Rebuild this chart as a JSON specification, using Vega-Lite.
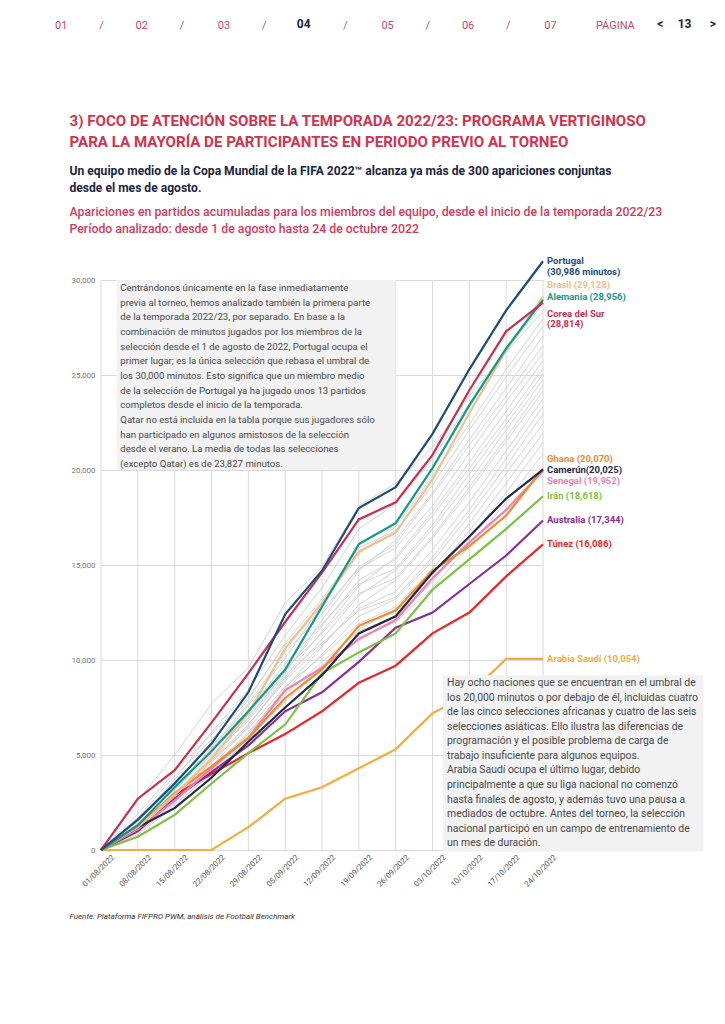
{
"$schema": "https://vega.github.io/schema/vega-lite/v6.json",
"width": 442, "height": 589,
"autosize": {"type": "none"},
"padding": {"left": 101, "top": 261, "right": 182, "bottom": 174},
"background": "white",
"config": {"view": {"stroke": null}, "font": "Roboto"},
"title": {
 "text": "01\u2003\u2003\u2002\u2004/\u2003\u2003\u2002\u200402\u2003\u2003\u2002\u2004/\u2003\u2003\u2002\u2004\u200603\u2003\u2003\u2002\u2004/\u2003\u2003\u2002\u2004\u2003\u2006\u2003\u2003\u2002\u2004/\u2003\u2003\u2002\u2004\u200605\u2003\u2003\u2002\u2004/\u2003\u2003\u2002\u200406\u2003\u2003\u2002\u2004/\u2003\u2003\u2002\u2004\u200607\u2003\u2003\u2003\u2002PÁGINA",
 "subtitle": "\u200b\u2003\u2003\u2003\u2003\u2003\u2003\u2003\u2003\u2003\u2003\u2003\u2003\u2003\u2003\u2003\u2003\u2003\u2003\u2003\u2002\u200504\u2003\u2003\u2003\u2003\u2003\u2003\u2003\u2003\u2003\u2003\u2003\u2003\u2003\u2003\u2003\u2003\u2003\u2003\u2003\u2003\u2003\u2003\u2003\u2003\u2003\u2003\u2003\u2003\u2004<\u2003\u200613\u2003\u2005\u2005>",
 "anchor": "start", "frame": "group", "dx": -46, "offset": 80,
 "font": "Roboto", "fontSize": 11, "fontWeight": "normal", "color": "#c9486e",
 "subtitleFont": "Roboto", "subtitleFontSize": 12, "subtitleFontWeight": "bold", "subtitleColor": "#1c2541", "subtitlePadding": -12
},
"datasets": {
"etiquetas": [
 {"t": "Portugal", "texto": ["Portugal", "(30,986 minutos)"], "v": 30986, "d": "2022-10-24"},
 {"t": "Brasil", "texto": "Brasil (29,128)", "v": 29128, "d": "2022-10-24"},
 {"t": "Alemania", "texto": "Alemania (28,956)", "v": 28956, "d": "2022-10-24"},
 {"t": "Corea del Sur", "texto": ["Corea del Sur", "(28,814)"], "v": 28814, "d": "2022-10-24"},
 {"t": "Ghana", "texto": "Ghana (20,070)", "v": 20070, "d": "2022-10-24"},
 {"t": "Camerún", "texto": "Camerún(20,025)", "v": 20025, "d": "2022-10-24"},
 {"t": "Senegal", "texto": "Senegal (19,952)", "v": 19952, "d": "2022-10-24"},
 {"t": "Irán", "texto": "Irán (18,618)", "v": 18618, "d": "2022-10-24"},
 {"t": "Australia", "texto": "Australia (17,344)", "v": 17344, "d": "2022-10-24"},
 {"t": "Túnez", "texto": "Túnez (16,086)", "v": 16086, "d": "2022-10-24"},
 {"t": "Arabia Saudí", "texto": "Arabia Saudí (10,054)", "v": 10054, "d": "2022-10-24"}
],
"series": [
{"t":"Otra 01","d":"2022-08-01","v":0},{"t":"Otra 01","d":"2022-08-08","v":1500},{"t":"Otra 01","d":"2022-08-15","v":3700},{"t":"Otra 01","d":"2022-08-22","v":6200},{"t":"Otra 01","d":"2022-08-29","v":8400},{"t":"Otra 01","d":"2022-09-05","v":11300},{"t":"Otra 01","d":"2022-09-12","v":13800},{"t":"Otra 01","d":"2022-09-19","v":16900},{"t":"Otra 01","d":"2022-09-26","v":18200},{"t":"Otra 01","d":"2022-10-03","v":20600},{"t":"Otra 01","d":"2022-10-10","v":23500},{"t":"Otra 01","d":"2022-10-17","v":26300},{"t":"Otra 01","d":"2022-10-24","v":28750},
{"t":"Otra 02","d":"2022-08-01","v":0},{"t":"Otra 02","d":"2022-08-08","v":2600},{"t":"Otra 02","d":"2022-08-15","v":5000},{"t":"Otra 02","d":"2022-08-22","v":7700},{"t":"Otra 02","d":"2022-08-29","v":9600},{"t":"Otra 02","d":"2022-09-05","v":13000},{"t":"Otra 02","d":"2022-09-12","v":14900},{"t":"Otra 02","d":"2022-09-19","v":18100},{"t":"Otra 02","d":"2022-09-26","v":19300},{"t":"Otra 02","d":"2022-10-03","v":21200},{"t":"Otra 02","d":"2022-10-10","v":23900},{"t":"Otra 02","d":"2022-10-17","v":26200},{"t":"Otra 02","d":"2022-10-24","v":28350},
{"t":"Otra 03","d":"2022-08-01","v":0},{"t":"Otra 03","d":"2022-08-08","v":1200},{"t":"Otra 03","d":"2022-08-15","v":3100},{"t":"Otra 03","d":"2022-08-22","v":5300},{"t":"Otra 03","d":"2022-08-29","v":7600},{"t":"Otra 03","d":"2022-09-05","v":10100},{"t":"Otra 03","d":"2022-09-12","v":12900},{"t":"Otra 03","d":"2022-09-19","v":15600},{"t":"Otra 03","d":"2022-09-26","v":17000},{"t":"Otra 03","d":"2022-10-03","v":19700},{"t":"Otra 03","d":"2022-10-10","v":22400},{"t":"Otra 03","d":"2022-10-17","v":25300},{"t":"Otra 03","d":"2022-10-24","v":27950},
{"t":"Otra 04","d":"2022-08-01","v":0},{"t":"Otra 04","d":"2022-08-08","v":1700},{"t":"Otra 04","d":"2022-08-15","v":3900},{"t":"Otra 04","d":"2022-08-22","v":5800},{"t":"Otra 04","d":"2022-08-29","v":7900},{"t":"Otra 04","d":"2022-09-05","v":10900},{"t":"Otra 04","d":"2022-09-12","v":13200},{"t":"Otra 04","d":"2022-09-19","v":15900},{"t":"Otra 04","d":"2022-09-26","v":16800},{"t":"Otra 04","d":"2022-10-03","v":19200},{"t":"Otra 04","d":"2022-10-10","v":22100},{"t":"Otra 04","d":"2022-10-17","v":24900},{"t":"Otra 04","d":"2022-10-24","v":27550},
{"t":"Otra 05","d":"2022-08-01","v":0},{"t":"Otra 05","d":"2022-08-08","v":1000},{"t":"Otra 05","d":"2022-08-15","v":2600},{"t":"Otra 05","d":"2022-08-22","v":4700},{"t":"Otra 05","d":"2022-08-29","v":7000},{"t":"Otra 05","d":"2022-09-05","v":9300},{"t":"Otra 05","d":"2022-09-12","v":12100},{"t":"Otra 05","d":"2022-09-19","v":14700},{"t":"Otra 05","d":"2022-09-26","v":16300},{"t":"Otra 05","d":"2022-10-03","v":18800},{"t":"Otra 05","d":"2022-10-10","v":21600},{"t":"Otra 05","d":"2022-10-17","v":24300},{"t":"Otra 05","d":"2022-10-24","v":27050},
{"t":"Otra 06","d":"2022-08-01","v":0},{"t":"Otra 06","d":"2022-08-08","v":1400},{"t":"Otra 06","d":"2022-08-15","v":3300},{"t":"Otra 06","d":"2022-08-22","v":5400},{"t":"Otra 06","d":"2022-08-29","v":7700},{"t":"Otra 06","d":"2022-09-05","v":10400},{"t":"Otra 06","d":"2022-09-12","v":12400},{"t":"Otra 06","d":"2022-09-19","v":14900},{"t":"Otra 06","d":"2022-09-26","v":16100},{"t":"Otra 06","d":"2022-10-03","v":18700},{"t":"Otra 06","d":"2022-10-10","v":21300},{"t":"Otra 06","d":"2022-10-17","v":23900},{"t":"Otra 06","d":"2022-10-24","v":26550},
{"t":"Otra 07","d":"2022-08-01","v":0},{"t":"Otra 07","d":"2022-08-08","v":1900},{"t":"Otra 07","d":"2022-08-15","v":4100},{"t":"Otra 07","d":"2022-08-22","v":6100},{"t":"Otra 07","d":"2022-08-29","v":8000},{"t":"Otra 07","d":"2022-09-05","v":10800},{"t":"Otra 07","d":"2022-09-12","v":12600},{"t":"Otra 07","d":"2022-09-19","v":14800},{"t":"Otra 07","d":"2022-09-26","v":15900},{"t":"Otra 07","d":"2022-10-03","v":18100},{"t":"Otra 07","d":"2022-10-10","v":20900},{"t":"Otra 07","d":"2022-10-17","v":23600},{"t":"Otra 07","d":"2022-10-24","v":26150},
{"t":"Otra 08","d":"2022-08-01","v":0},{"t":"Otra 08","d":"2022-08-08","v":900},{"t":"Otra 08","d":"2022-08-15","v":2500},{"t":"Otra 08","d":"2022-08-22","v":4400},{"t":"Otra 08","d":"2022-08-29","v":6500},{"t":"Otra 08","d":"2022-09-05","v":9100},{"t":"Otra 08","d":"2022-09-12","v":11500},{"t":"Otra 08","d":"2022-09-19","v":13900},{"t":"Otra 08","d":"2022-09-26","v":15400},{"t":"Otra 08","d":"2022-10-03","v":17800},{"t":"Otra 08","d":"2022-10-10","v":20400},{"t":"Otra 08","d":"2022-10-17","v":23100},{"t":"Otra 08","d":"2022-10-24","v":25750},
{"t":"Otra 09","d":"2022-08-01","v":0},{"t":"Otra 09","d":"2022-08-08","v":1300},{"t":"Otra 09","d":"2022-08-15","v":3000},{"t":"Otra 09","d":"2022-08-22","v":4900},{"t":"Otra 09","d":"2022-08-29","v":6900},{"t":"Otra 09","d":"2022-09-05","v":9400},{"t":"Otra 09","d":"2022-09-12","v":11800},{"t":"Otra 09","d":"2022-09-19","v":14200},{"t":"Otra 09","d":"2022-09-26","v":15300},{"t":"Otra 09","d":"2022-10-03","v":17600},{"t":"Otra 09","d":"2022-10-10","v":20100},{"t":"Otra 09","d":"2022-10-17","v":22700},{"t":"Otra 09","d":"2022-10-24","v":25350},
{"t":"Otra 10","d":"2022-08-01","v":0},{"t":"Otra 10","d":"2022-08-08","v":1600},{"t":"Otra 10","d":"2022-08-15","v":3600},{"t":"Otra 10","d":"2022-08-22","v":5500},{"t":"Otra 10","d":"2022-08-29","v":7300},{"t":"Otra 10","d":"2022-09-05","v":9800},{"t":"Otra 10","d":"2022-09-12","v":11900},{"t":"Otra 10","d":"2022-09-19","v":14000},{"t":"Otra 10","d":"2022-09-26","v":14800},{"t":"Otra 10","d":"2022-10-03","v":17100},{"t":"Otra 10","d":"2022-10-10","v":19800},{"t":"Otra 10","d":"2022-10-17","v":22400},{"t":"Otra 10","d":"2022-10-24","v":25050},
{"t":"Otra 11","d":"2022-08-01","v":0},{"t":"Otra 11","d":"2022-08-08","v":1100},{"t":"Otra 11","d":"2022-08-15","v":2800},{"t":"Otra 11","d":"2022-08-22","v":4600},{"t":"Otra 11","d":"2022-08-29","v":6600},{"t":"Otra 11","d":"2022-09-05","v":9000},{"t":"Otra 11","d":"2022-09-12","v":11100},{"t":"Otra 11","d":"2022-09-19","v":13400},{"t":"Otra 11","d":"2022-09-26","v":14700},{"t":"Otra 11","d":"2022-10-03","v":16900},{"t":"Otra 11","d":"2022-10-10","v":19400},{"t":"Otra 11","d":"2022-10-17","v":22100},{"t":"Otra 11","d":"2022-10-24","v":24750},
{"t":"Otra 12","d":"2022-08-01","v":0},{"t":"Otra 12","d":"2022-08-08","v":1500},{"t":"Otra 12","d":"2022-08-15","v":3400},{"t":"Otra 12","d":"2022-08-22","v":5200},{"t":"Otra 12","d":"2022-08-29","v":7100},{"t":"Otra 12","d":"2022-09-05","v":9500},{"t":"Otra 12","d":"2022-09-12","v":11400},{"t":"Otra 12","d":"2022-09-19","v":13500},{"t":"Otra 12","d":"2022-09-26","v":14300},{"t":"Otra 12","d":"2022-10-03","v":16500},{"t":"Otra 12","d":"2022-10-10","v":19100},{"t":"Otra 12","d":"2022-10-17","v":21700},{"t":"Otra 12","d":"2022-10-24","v":24450},
{"t":"Otra 13","d":"2022-08-01","v":0},{"t":"Otra 13","d":"2022-08-08","v":800},{"t":"Otra 13","d":"2022-08-15","v":2300},{"t":"Otra 13","d":"2022-08-22","v":4100},{"t":"Otra 13","d":"2022-08-29","v":6100},{"t":"Otra 13","d":"2022-09-05","v":8500},{"t":"Otra 13","d":"2022-09-12","v":10700},{"t":"Otra 13","d":"2022-09-19","v":12900},{"t":"Otra 13","d":"2022-09-26","v":14200},{"t":"Otra 13","d":"2022-10-03","v":16400},{"t":"Otra 13","d":"2022-10-10","v":18900},{"t":"Otra 13","d":"2022-10-17","v":21500},{"t":"Otra 13","d":"2022-10-24","v":24150},
{"t":"Otra 14","d":"2022-08-01","v":0},{"t":"Otra 14","d":"2022-08-08","v":1200},{"t":"Otra 14","d":"2022-08-15","v":2900},{"t":"Otra 14","d":"2022-08-22","v":4700},{"t":"Otra 14","d":"2022-08-29","v":6600},{"t":"Otra 14","d":"2022-09-05","v":8900},{"t":"Otra 14","d":"2022-09-12","v":10800},{"t":"Otra 14","d":"2022-09-19","v":12700},{"t":"Otra 14","d":"2022-09-26","v":13600},{"t":"Otra 14","d":"2022-10-03","v":15800},{"t":"Otra 14","d":"2022-10-10","v":18300},{"t":"Otra 14","d":"2022-10-17","v":21000},{"t":"Otra 14","d":"2022-10-24","v":23750},
{"t":"Otra 15","d":"2022-08-01","v":0},{"t":"Otra 15","d":"2022-08-08","v":1400},{"t":"Otra 15","d":"2022-08-15","v":3200},{"t":"Otra 15","d":"2022-08-22","v":5000},{"t":"Otra 15","d":"2022-08-29","v":6800},{"t":"Otra 15","d":"2022-09-05","v":9200},{"t":"Otra 15","d":"2022-09-12","v":10900},{"t":"Otra 15","d":"2022-09-19","v":12600},{"t":"Otra 15","d":"2022-09-26","v":13300},{"t":"Otra 15","d":"2022-10-03","v":15400},{"t":"Otra 15","d":"2022-10-10","v":17900},{"t":"Otra 15","d":"2022-10-17","v":20600},{"t":"Otra 15","d":"2022-10-24","v":23350},
{"t":"Otra 16","d":"2022-08-01","v":0},{"t":"Otra 16","d":"2022-08-08","v":1000},{"t":"Otra 16","d":"2022-08-15","v":2600},{"t":"Otra 16","d":"2022-08-22","v":4300},{"t":"Otra 16","d":"2022-08-29","v":6200},{"t":"Otra 16","d":"2022-09-05","v":8400},{"t":"Otra 16","d":"2022-09-12","v":10300},{"t":"Otra 16","d":"2022-09-19","v":12300},{"t":"Otra 16","d":"2022-09-26","v":13200},{"t":"Otra 16","d":"2022-10-03","v":15200},{"t":"Otra 16","d":"2022-10-10","v":17600},{"t":"Otra 16","d":"2022-10-17","v":20200},{"t":"Otra 16","d":"2022-10-24","v":22950},
{"t":"Otra 17","d":"2022-08-01","v":0},{"t":"Otra 17","d":"2022-08-08","v":1300},{"t":"Otra 17","d":"2022-08-15","v":3000},{"t":"Otra 17","d":"2022-08-22","v":4700},{"t":"Otra 17","d":"2022-08-29","v":6400},{"t":"Otra 17","d":"2022-09-05","v":8600},{"t":"Otra 17","d":"2022-09-12","v":10200},{"t":"Otra 17","d":"2022-09-19","v":11900},{"t":"Otra 17","d":"2022-09-26","v":12800},{"t":"Otra 17","d":"2022-10-03","v":14800},{"t":"Otra 17","d":"2022-10-10","v":17200},{"t":"Otra 17","d":"2022-10-17","v":19800},{"t":"Otra 17","d":"2022-10-24","v":22450},
{"t":"Otra 18","d":"2022-08-01","v":0},{"t":"Otra 18","d":"2022-08-08","v":900},{"t":"Otra 18","d":"2022-08-15","v":2400},{"t":"Otra 18","d":"2022-08-22","v":4000},{"t":"Otra 18","d":"2022-08-29","v":5800},{"t":"Otra 18","d":"2022-09-05","v":7900},{"t":"Otra 18","d":"2022-09-12","v":9700},{"t":"Otra 18","d":"2022-09-19","v":11600},{"t":"Otra 18","d":"2022-09-26","v":12700},{"t":"Otra 18","d":"2022-10-03","v":14500},{"t":"Otra 18","d":"2022-10-10","v":16800},{"t":"Otra 18","d":"2022-10-17","v":19300},{"t":"Otra 18","d":"2022-10-24","v":21950},
{"t":"Otra 19","d":"2022-08-01","v":0},{"t":"Otra 19","d":"2022-08-08","v":1100},{"t":"Otra 19","d":"2022-08-15","v":2700},{"t":"Otra 19","d":"2022-08-22","v":4400},{"t":"Otra 19","d":"2022-08-29","v":6100},{"t":"Otra 19","d":"2022-09-05","v":8200},{"t":"Otra 19","d":"2022-09-12","v":9900},{"t":"Otra 19","d":"2022-09-19","v":11500},{"t":"Otra 19","d":"2022-09-26","v":12300},{"t":"Otra 19","d":"2022-10-03","v":14100},{"t":"Otra 19","d":"2022-10-10","v":16400},{"t":"Otra 19","d":"2022-10-17","v":18800},{"t":"Otra 19","d":"2022-10-24","v":21450},
{"t":"Otra 20","d":"2022-08-01","v":0},{"t":"Otra 20","d":"2022-08-08","v":1200},{"t":"Otra 20","d":"2022-08-15","v":2800},{"t":"Otra 20","d":"2022-08-22","v":4300},{"t":"Otra 20","d":"2022-08-29","v":5900},{"t":"Otra 20","d":"2022-09-05","v":7800},{"t":"Otra 20","d":"2022-09-12","v":9500},{"t":"Otra 20","d":"2022-09-19","v":11200},{"t":"Otra 20","d":"2022-09-26","v":12000},{"t":"Otra 20","d":"2022-10-03","v":13800},{"t":"Otra 20","d":"2022-10-10","v":16000},{"t":"Otra 20","d":"2022-10-17","v":18300},{"t":"Otra 20","d":"2022-10-24","v":20850},
{"t":"Arabia Saudí","d":"2022-08-01","v":0},{"t":"Arabia Saudí","d":"2022-08-08","v":0},{"t":"Arabia Saudí","d":"2022-08-15","v":0},{"t":"Arabia Saudí","d":"2022-08-22","v":0},{"t":"Arabia Saudí","d":"2022-08-29","v":1200},{"t":"Arabia Saudí","d":"2022-09-05","v":2700},{"t":"Arabia Saudí","d":"2022-09-12","v":3300},{"t":"Arabia Saudí","d":"2022-09-19","v":4300},{"t":"Arabia Saudí","d":"2022-09-26","v":5300},{"t":"Arabia Saudí","d":"2022-10-03","v":7200},{"t":"Arabia Saudí","d":"2022-10-10","v":8200},{"t":"Arabia Saudí","d":"2022-10-17","v":10054},{"t":"Arabia Saudí","d":"2022-10-24","v":10054},
{"t":"Túnez","d":"2022-08-01","v":0},{"t":"Túnez","d":"2022-08-08","v":1300},{"t":"Túnez","d":"2022-08-15","v":2900},{"t":"Túnez","d":"2022-08-22","v":4000},{"t":"Túnez","d":"2022-08-29","v":5100},{"t":"Túnez","d":"2022-09-05","v":6100},{"t":"Túnez","d":"2022-09-12","v":7300},{"t":"Túnez","d":"2022-09-19","v":8800},{"t":"Túnez","d":"2022-09-26","v":9700},{"t":"Túnez","d":"2022-10-03","v":11400},{"t":"Túnez","d":"2022-10-10","v":12500},{"t":"Túnez","d":"2022-10-17","v":14400},{"t":"Túnez","d":"2022-10-24","v":16086},
{"t":"Australia","d":"2022-08-01","v":0},{"t":"Australia","d":"2022-08-08","v":1000},{"t":"Australia","d":"2022-08-15","v":2700},{"t":"Australia","d":"2022-08-22","v":4100},{"t":"Australia","d":"2022-08-29","v":5500},{"t":"Australia","d":"2022-09-05","v":7300},{"t":"Australia","d":"2022-09-12","v":8300},{"t":"Australia","d":"2022-09-19","v":9900},{"t":"Australia","d":"2022-09-26","v":11700},{"t":"Australia","d":"2022-10-03","v":12500},{"t":"Australia","d":"2022-10-10","v":14000},{"t":"Australia","d":"2022-10-17","v":15500},{"t":"Australia","d":"2022-10-24","v":17344},
{"t":"Irán","d":"2022-08-01","v":0},{"t":"Irán","d":"2022-08-08","v":700},{"t":"Irán","d":"2022-08-15","v":1850},{"t":"Irán","d":"2022-08-22","v":3500},{"t":"Irán","d":"2022-08-29","v":5100},{"t":"Irán","d":"2022-09-05","v":6600},{"t":"Irán","d":"2022-09-12","v":9300},{"t":"Irán","d":"2022-09-19","v":10400},{"t":"Irán","d":"2022-09-26","v":11400},{"t":"Irán","d":"2022-10-03","v":13700},{"t":"Irán","d":"2022-10-10","v":15300},{"t":"Irán","d":"2022-10-17","v":16900},{"t":"Irán","d":"2022-10-24","v":18618},
{"t":"Senegal","d":"2022-08-01","v":0},{"t":"Senegal","d":"2022-08-08","v":1100},{"t":"Senegal","d":"2022-08-15","v":2600},{"t":"Senegal","d":"2022-08-22","v":4300},{"t":"Senegal","d":"2022-08-29","v":5900},{"t":"Senegal","d":"2022-09-05","v":8400},{"t":"Senegal","d":"2022-09-12","v":9600},{"t":"Senegal","d":"2022-09-19","v":11100},{"t":"Senegal","d":"2022-09-26","v":12100},{"t":"Senegal","d":"2022-10-03","v":14300},{"t":"Senegal","d":"2022-10-10","v":16200},{"t":"Senegal","d":"2022-10-17","v":17900},{"t":"Senegal","d":"2022-10-24","v":19952},
{"t":"Ghana","d":"2022-08-01","v":0},{"t":"Ghana","d":"2022-08-08","v":1200},{"t":"Ghana","d":"2022-08-15","v":3000},{"t":"Ghana","d":"2022-08-22","v":4400},{"t":"Ghana","d":"2022-08-29","v":5900},{"t":"Ghana","d":"2022-09-05","v":8000},{"t":"Ghana","d":"2022-09-12","v":9500},{"t":"Ghana","d":"2022-09-19","v":11800},{"t":"Ghana","d":"2022-09-26","v":12600},{"t":"Ghana","d":"2022-10-03","v":14700},{"t":"Ghana","d":"2022-10-10","v":16000},{"t":"Ghana","d":"2022-10-17","v":17600},{"t":"Ghana","d":"2022-10-24","v":20070},
{"t":"Camerún","d":"2022-08-01","v":0},{"t":"Camerún","d":"2022-08-08","v":1200},{"t":"Camerún","d":"2022-08-15","v":2200},{"t":"Camerún","d":"2022-08-22","v":3800},{"t":"Camerún","d":"2022-08-29","v":5700},{"t":"Camerún","d":"2022-09-05","v":7500},{"t":"Camerún","d":"2022-09-12","v":9200},{"t":"Camerún","d":"2022-09-19","v":11400},{"t":"Camerún","d":"2022-09-26","v":12300},{"t":"Camerún","d":"2022-10-03","v":14600},{"t":"Camerún","d":"2022-10-10","v":16500},{"t":"Camerún","d":"2022-10-17","v":18500},{"t":"Camerún","d":"2022-10-24","v":20025},
{"t":"Brasil","d":"2022-08-01","v":0},{"t":"Brasil","d":"2022-08-08","v":1200},{"t":"Brasil","d":"2022-08-15","v":2900},{"t":"Brasil","d":"2022-08-22","v":4800},{"t":"Brasil","d":"2022-08-29","v":7200},{"t":"Brasil","d":"2022-09-05","v":10600},{"t":"Brasil","d":"2022-09-12","v":13000},{"t":"Brasil","d":"2022-09-19","v":15700},{"t":"Brasil","d":"2022-09-26","v":16700},{"t":"Brasil","d":"2022-10-03","v":19500},{"t":"Brasil","d":"2022-10-10","v":23000},{"t":"Brasil","d":"2022-10-17","v":26300},{"t":"Brasil","d":"2022-10-24","v":29128},
{"t":"Alemania","d":"2022-08-01","v":0},{"t":"Alemania","d":"2022-08-08","v":1300},{"t":"Alemania","d":"2022-08-15","v":3300},{"t":"Alemania","d":"2022-08-22","v":5200},{"t":"Alemania","d":"2022-08-29","v":7300},{"t":"Alemania","d":"2022-09-05","v":9500},{"t":"Alemania","d":"2022-09-12","v":12800},{"t":"Alemania","d":"2022-09-19","v":16100},{"t":"Alemania","d":"2022-09-26","v":17200},{"t":"Alemania","d":"2022-10-03","v":20100},{"t":"Alemania","d":"2022-10-10","v":23400},{"t":"Alemania","d":"2022-10-17","v":26400},{"t":"Alemania","d":"2022-10-24","v":28956},
{"t":"Corea del Sur","d":"2022-08-01","v":0},{"t":"Corea del Sur","d":"2022-08-08","v":2700},{"t":"Corea del Sur","d":"2022-08-15","v":4200},{"t":"Corea del Sur","d":"2022-08-22","v":6700},{"t":"Corea del Sur","d":"2022-08-29","v":9300},{"t":"Corea del Sur","d":"2022-09-05","v":12000},{"t":"Corea del Sur","d":"2022-09-12","v":14600},{"t":"Corea del Sur","d":"2022-09-19","v":17400},{"t":"Corea del Sur","d":"2022-09-26","v":18300},{"t":"Corea del Sur","d":"2022-10-03","v":20800},{"t":"Corea del Sur","d":"2022-10-10","v":24200},{"t":"Corea del Sur","d":"2022-10-17","v":27300},{"t":"Corea del Sur","d":"2022-10-24","v":28814},
{"t":"Portugal","d":"2022-08-01","v":0},{"t":"Portugal","d":"2022-08-08","v":1600},{"t":"Portugal","d":"2022-08-15","v":3500},{"t":"Portugal","d":"2022-08-22","v":5600},{"t":"Portugal","d":"2022-08-29","v":8300},{"t":"Portugal","d":"2022-09-05","v":12400},{"t":"Portugal","d":"2022-09-12","v":14700},{"t":"Portugal","d":"2022-09-19","v":18000},{"t":"Portugal","d":"2022-09-26","v":19100},{"t":"Portugal","d":"2022-10-03","v":21900},{"t":"Portugal","d":"2022-10-10","v":25300},{"t":"Portugal","d":"2022-10-17","v":28400},{"t":"Portugal","d":"2022-10-24","v":30986}
]
},
"data": {"name": "series"},
"resolve": {"axis": {"x": "independent", "y": "independent"}},
"layer": [
 {
  "transform": [{"filter": {"field": "t", "equal": "Portugal"}}],
  "mark": {"type": "rule", "color": "#d9d9d9", "strokeWidth": 1},
  "encoding": {
   "x": {"field": "d", "type": "temporal", "axis": null,
    "scale": {"type": "utc", "domain": [{"year": 2022, "month": 8, "date": 1, "utc": true}, {"year": 2022, "month": 10, "date": 24, "utc": true}]}},
   "y": {"datum": 0, "type": "quantitative", "axis": null, "scale": {"domain": [0, 31000], "nice": false, "zero": true}},
   "y2": {"datum": 30000}
  }
 },
 {
  "transform": [{"filter": {"not": {"field": "t", "oneOf": ["Portugal", "Brasil", "Alemania", "Corea del Sur", "Ghana", "Camerún", "Senegal", "Irán", "Australia", "Túnez", "Arabia Saudí"]}}}],
  "mark": {"type": "line", "color": "#cfcfcf", "strokeWidth": 0.9},
  "encoding": {
   "x": {"field": "d", "type": "temporal",
    "axis": {"orient": "bottom", "labelExpr": "utcFormat(datum.value, '%d/%m/%Y')",
     "values": [{"year": 2022, "month": 8, "date": 1, "utc": true}, {"year": 2022, "month": 8, "date": 8, "utc": true}, {"year": 2022, "month": 8, "date": 15, "utc": true}, {"year": 2022, "month": 8, "date": 22, "utc": true}, {"year": 2022, "month": 8, "date": 29, "utc": true}, {"year": 2022, "month": 9, "date": 5, "utc": true}, {"year": 2022, "month": 9, "date": 12, "utc": true}, {"year": 2022, "month": 9, "date": 19, "utc": true}, {"year": 2022, "month": 9, "date": 26, "utc": true}, {"year": 2022, "month": 10, "date": 3, "utc": true}, {"year": 2022, "month": 10, "date": 10, "utc": true}, {"year": 2022, "month": 10, "date": 17, "utc": true}, {"year": 2022, "month": 10, "date": 24, "utc": true}],
     "labelAngle": -45, "labelAlign": "right", "labelBaseline": "middle", "labelOffset": 12, "labelPadding": 6,
     "labelFont": "Roboto", "labelFontSize": 7.8, "labelColor": "#555555", "labelOverlap": false, "labelFlush": false,
     "ticks": false, "domain": false, "grid": false,
     "title": "Fuente: Plataforma FIFPRO PWM, análisis de Football Benchmark",
     "titleFont": "Roboto", "titleFontSize": 8, "titleFontStyle": "italic", "titleFontWeight": "normal", "titleColor": "#333333",
     "titleAlign": "left", "titleAnchor": "start", "titleBaseline": "top", "titleX": -32, "titleY": 62}},
   "y": {"field": "v", "type": "quantitative",
    "axis": {"orient": "left", "values": [0, 5000, 10000, 15000, 20000, 25000, 30000], "format": ",d",
     "labelFont": "Roboto", "labelFontSize": 8, "labelColor": "#777777", "labelPadding": 6,
     "ticks": false, "domain": false, "grid": true, "gridColor": "#d9d9d9", "gridWidth": 1,
     "title": ["Un equipo medio de la Copa Mundial de la FIFA 2022™ alcanza ya más de 300 apariciones conjuntas", "desde el mes de agosto."],
     "titleFont": "Roboto", "titleFontSize": 12.1, "titleFontWeight": "bold", "titleColor": "#1c2541",
     "titleAngle": 0, "titleAlign": "left", "titleAnchor": "start", "titleBaseline": "top", "titleX": -32, "titleY": -97, "titleLineHeight": 17}},
   "detail": {"field": "t"}
  }
 },
 {
  "transform": [{"filter": {"field": "t", "oneOf": ["Portugal", "Brasil", "Alemania", "Corea del Sur", "Ghana", "Camerún", "Senegal", "Irán", "Australia", "Túnez", "Arabia Saudí"]}}],
  "mark": {"type": "line", "strokeWidth": 2.2},
  "encoding": {
   "x": {"field": "d", "type": "temporal",
    "axis": {"orient": "top", "labels": false, "ticks": false, "domain": false, "grid": false,
     "title": ["3) FOCO DE ATENCIÓN SOBRE LA TEMPORADA 2022/23: PROGRAMA VERTIGINOSO", "PARA LA MAYORÍA DE PARTICIPANTES EN PERIODO PREVIO AL TORNEO"],
     "titleFont": "Roboto", "titleFontSize": 15.1, "titleFontWeight": "bold", "titleColor": "#d0344f",
     "titleAlign": "left", "titleAnchor": "start", "titleBaseline": "top", "titleX": -32, "titleY": -148, "titleLineHeight": 21}},
   "y": {"field": "v", "type": "quantitative",
    "axis": {"orient": "right", "labels": false, "ticks": false, "domain": false, "grid": false,
     "title": ["Apariciones en partidos acumuladas para los miembros del equipo, desde el inicio de la temporada 2022/23", "Período analizado: desde 1 de agosto hasta 24 de octubre 2022"],
     "titleFont": "Roboto", "titleFontSize": 12.3, "titleFontWeight": 500, "titleColor": "#d43a5c",
     "titleAngle": 0, "titleAlign": "left", "titleAnchor": "start", "titleBaseline": "top", "titleX": -474, "titleY": -56, "titleLineHeight": 17}},
   "color": {"field": "t", "type": "nominal", "legend": null,
    "scale": {"domain": ["Portugal", "Brasil", "Alemania", "Corea del Sur", "Ghana", "Camerún", "Senegal", "Irán", "Australia", "Túnez", "Arabia Saudí"],
     "range": ["#1f4a7c", "#efc08d", "#12998a", "#c9304f", "#f08a2c", "#1e2a47", "#f27fb0", "#7cc242", "#8a2d96", "#e8272c", "#f5ac3c"]}}
  }
 },
 {
  "data": {"values": [{}]},
  "mark": {"type": "rect", "color": "#f2f2f2"},
  "encoding": {
   "x": {"datum": {"year": 2022, "month": 8, "date": 4, "utc": true}, "type": "temporal", "axis": null},
   "x2": {"datum": {"year": 2022, "month": 9, "date": 26, "utc": true}},
   "y": {"datum": 30000, "type": "quantitative", "axis": null},
   "y2": {"datum": 20000}
  }
 },
 {
  "data": {"values": [{}]},
  "mark": {"type": "rect", "color": "#f2f2f2"},
  "encoding": {
   "x": {"datum": {"year": 2022, "month": 10, "date": 5, "utc": true}, "type": "temporal", "axis": null},
   "x2": {"datum": {"year": 2022, "month": 11, "date": 23, "hours": 12, "utc": true}},
   "y": {"datum": 9200, "type": "quantitative", "axis": null},
   "y2": {"datum": -80}
  }
 },
 {
  "data": {"values": [{}]},
  "mark": {"type": "text", "align": "left", "baseline": "top", "dx": 3.5, "dy": 3, "font": "Roboto", "fontSize": 9.6, "lineHeight": 14.67, "color": "#484848"},
  "encoding": {
   "x": {"datum": {"year": 2022, "month": 8, "date": 4, "utc": true}, "type": "temporal", "axis": null},
   "y": {"datum": 30000, "type": "quantitative", "axis": null},
   "text": {"value": ["Centrándonos únicamente en la fase inmediatamente", "previa al torneo, hemos analizado también la primera parte", "de la temporada 2022/23, por separado. En base a la", "combinación de minutos jugados por los miembros de la", "selección desde el 1 de agosto de 2022, Portugal ocupa el", "primer lugar; es la única selección que rebasa el umbral de", "los 30,000 minutos. Esto significa que un miembro medio", "de la selección de Portugal ya ha jugado unos 13 partidos", "completos desde el inicio de la temporada.", "Qatar no está incluida en la tabla porque sus jugadores sólo", "han participado en algunos amistosos de la selección", "desde el verano. La media de todas las selecciones", "(excepto Qatar) es de 23,827 minutos."]}
  }
 },
 {
  "data": {"values": [{}]},
  "mark": {"type": "text", "align": "left", "baseline": "top", "dx": 4, "dy": 3, "font": "Roboto", "fontSize": 10.4, "lineHeight": 14.55, "color": "#484848"},
  "encoding": {
   "x": {"datum": {"year": 2022, "month": 10, "date": 5, "utc": true}, "type": "temporal", "axis": null},
   "y": {"datum": 9200, "type": "quantitative", "axis": null},
   "text": {"value": ["Hay ocho naciones que se encuentran en el umbral de", "los 20,000 minutos o por debajo de él, incluidas cuatro", "de las cinco selecciones africanas y cuatro de las seis", "selecciones asiáticas. Ello ilustra las diferencias de", "programación y el posible problema de carga de", "trabajo insuficiente para algunos equipos.", "Arabia Saudí ocupa el último lugar, debido", "principalmente a que su liga nacional no comenzó", "hasta finales de agosto, y además tuvo una pausa a", "mediados de octubre. Antes del torneo, la selección", "nacional participó en un campo de entrenamiento de", "un mes de duración."]}
  }
 },
 {
  "data": {"name": "etiquetas"},
  "transform": [{"filter": {"field": "t", "oneOf": ["Portugal", "Camerún", "Irán", "Australia", "Túnez", "Arabia Saudí"]}}],
  "mark": {"type": "text", "align": "left", "baseline": "middle", "dx": 4, "dy": 0, "font": "Roboto", "fontWeight": "bold", "fontSize": 9.5, "lineHeight": 10.5},
  "encoding": {
   "x": {"field": "d", "type": "temporal", "axis": null},
   "y": {"field": "v", "type": "quantitative", "axis": null},
   "text": {"field": "texto"},
   "color": {"field": "t", "type": "nominal", "legend": null}
  }
 },
 {
  "data": {"name": "etiquetas"},
  "transform": [{"filter": {"field": "t", "equal": "Brasil"}}],
  "mark": {"type": "text", "align": "left", "baseline": "middle", "dx": 4, "dy": -12, "font": "Roboto", "fontWeight": "bold", "fontSize": 9.5, "lineHeight": 10.5},
  "encoding": {
   "x": {"field": "d", "type": "temporal", "axis": null},
   "y": {"field": "v", "type": "quantitative", "axis": null},
   "text": {"field": "texto"},
   "color": {"field": "t", "type": "nominal", "legend": null}
  }
 },
 {
  "data": {"name": "etiquetas"},
  "transform": [{"filter": {"field": "t", "equal": "Alemania"}}],
  "mark": {"type": "text", "align": "left", "baseline": "middle", "dx": 4, "dy": -3, "font": "Roboto", "fontWeight": "bold", "fontSize": 9.5, "lineHeight": 10.5},
  "encoding": {
   "x": {"field": "d", "type": "temporal", "axis": null},
   "y": {"field": "v", "type": "quantitative", "axis": null},
   "text": {"field": "texto"},
   "color": {"field": "t", "type": "nominal", "legend": null}
  }
 },
 {
  "data": {"name": "etiquetas"},
  "transform": [{"filter": {"field": "t", "equal": "Corea del Sur"}}],
  "mark": {"type": "text", "align": "left", "baseline": "middle", "dx": 4, "dy": 11, "font": "Roboto", "fontWeight": "bold", "fontSize": 9.5, "lineHeight": 10.5},
  "encoding": {
   "x": {"field": "d", "type": "temporal", "axis": null},
   "y": {"field": "v", "type": "quantitative", "axis": null},
   "text": {"field": "texto"},
   "color": {"field": "t", "type": "nominal", "legend": null}
  }
 },
 {
  "data": {"name": "etiquetas"},
  "transform": [{"filter": {"field": "t", "equal": "Ghana"}}],
  "mark": {"type": "text", "align": "left", "baseline": "middle", "dx": 4, "dy": -9.5, "font": "Roboto", "fontWeight": "bold", "fontSize": 9.5, "lineHeight": 10.5},
  "encoding": {
   "x": {"field": "d", "type": "temporal", "axis": null},
   "y": {"field": "v", "type": "quantitative", "axis": null},
   "text": {"field": "texto"},
   "color": {"field": "t", "type": "nominal", "legend": null}
  }
 },
 {
  "data": {"name": "etiquetas"},
  "transform": [{"filter": {"field": "t", "equal": "Senegal"}}],
  "mark": {"type": "text", "align": "left", "baseline": "middle", "dx": 4, "dy": 10.5, "font": "Roboto", "fontWeight": "bold", "fontSize": 9.5, "lineHeight": 10.5},
  "encoding": {
   "x": {"field": "d", "type": "temporal", "axis": null},
   "y": {"field": "v", "type": "quantitative", "axis": null},
   "text": {"field": "texto"},
   "color": {"field": "t", "type": "nominal", "legend": null}
  }
 }
]
}
